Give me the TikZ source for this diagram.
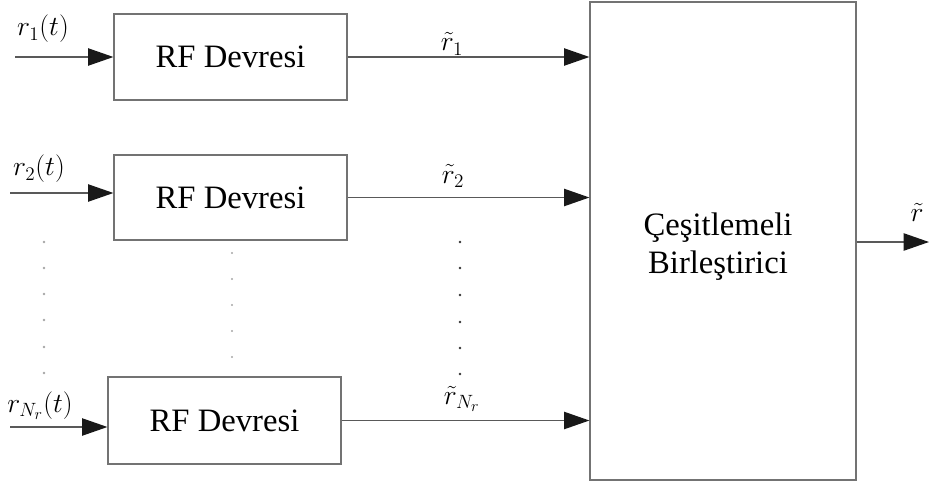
\documentclass[tikz,border=0pt]{standalone}
\usepackage{fontspec}
\setmainfont{Liberation Serif}
\usetikzlibrary{arrows.meta}
\begin{document}
\begin{tikzpicture}[x=0.75pt,y=-0.75pt,
  blk/.style={draw=black!55,line width=0.9pt,fill=white,inner sep=0pt},
  txt/.style={font=\fontsize{24.5}{28.5}\selectfont,align=center,inner sep=0pt},
  conn/.style={draw=black!65,line width=0.9pt,-{Triangle[length=19pt,width=13pt,color=black!90]}},
  lbl/.style={font=\huge,inner sep=0pt},
  dotl/.style={fill=black!35,draw=none},
  dotr/.style={fill=black!80,draw=none}]
\useasboundingbox (0,0) rectangle (929,482);
\node[blk,txt,minimum width=174.75pt,minimum height=64.5pt] (b1) at (230.5,57) {RF Devresi};
\node[blk,txt,minimum width=174.75pt,minimum height=63.75pt] (b2) at (230.5,197.5) {RF Devresi};
\node[blk,txt,minimum width=174.75pt,minimum height=65.25pt] (b3) at (224.5,420.5) {RF Devresi};
\node[blk,minimum width=199.5pt,minimum height=358.5pt] (big) at (723,241) {};
\node[txt] (bt) at (718,247) {Çeşitlemeli\\Birleştirici};
\coordinate (i1) at (15,57);
\coordinate (i2) at (10,193);
\coordinate (i3) at (10,427);
\coordinate (o) at (929,242);
\draw[conn] (i1) -- (i1 -| b1.west);
\draw[conn] (i2) -- (i2 -| b2.west);
\draw[conn] (i3) -- (i3 -| b3.west);
\draw[conn] (b1.east) -- (b1.east -| big.west);
\draw[conn] (b2.east) -- (b2.east -| big.west);
\draw[conn] (b3.east) -- (b3.east -| big.west);
\draw[conn] (o -| big.east) -- (o);
\node[lbl] (l1) at (43,29) {$r_1(t)$};
\node[lbl] (l2) at (39,169) {$r_2(t)$};
\node[lbl] (l3) at (40,406) {$r_{N_r}(t)$};
\node[lbl] (m1) at (452,44) {$\tilde{r}_1$};
\node[lbl] (m2) at (453,176) {$\tilde{r}_2$};
\node[lbl] (m3) at (462,399) {$\tilde{r}_{N_r}$};
\node[lbl] (m4) at (917,212) {$\tilde{r}$};
\foreach \y in {242,268,294,320,347,373} \fill[dotl] (44,\y) circle (1pt);
\foreach \y in {253,279,305,331,357} \fill[dotl] (232,\y) circle (0.8pt);
\foreach \y in {242,268,295,322,348,374} \fill[dotr] (460,\y) circle (1pt);
\end{tikzpicture}
\end{document}
